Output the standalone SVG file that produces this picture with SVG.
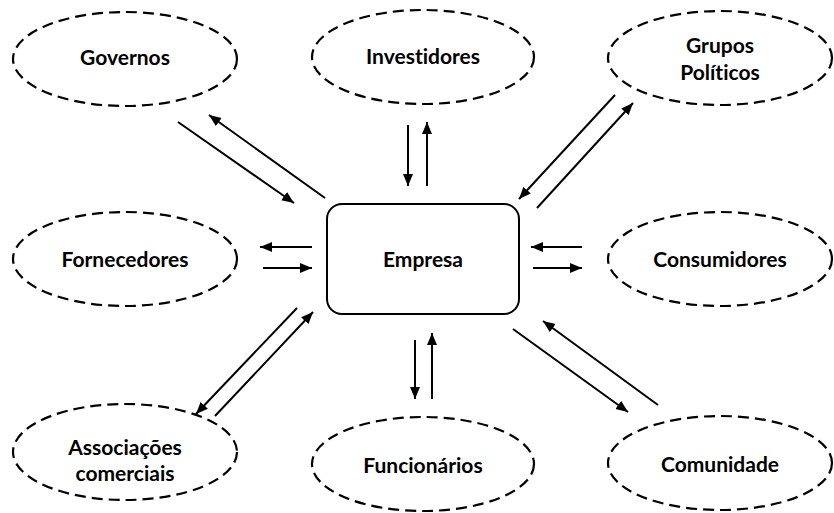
<svg xmlns="http://www.w3.org/2000/svg" width="834" height="513" viewBox="0 0 834 513">
<style>
.n ellipse{fill:#fff;stroke:#000;stroke-width:2.2;stroke-dasharray:11 6}
text{font-family:Lato,"Open Sans","Liberation Sans",sans-serif;font-weight:bold;font-size:21px;fill:#000;text-anchor:middle;dominant-baseline:central;font-variant-ligatures:none}
.c line{stroke:#000;stroke-width:2;marker-end:url(#ah)}
</style>
<defs>
<marker id="ah" markerUnits="userSpaceOnUse" markerWidth="14" markerHeight="12" refX="12" refY="5" orient="auto">
<path d="M0,0 L12,5 L0,10 Z" fill="#000"/>
</marker>
</defs>
<rect width="834" height="513" fill="#fff"/>
<g id="governos" class="n"><ellipse cx="125" cy="59" rx="112" ry="47"/><text x="125" y="56">Governos</text></g>
<g id="investidores" class="n"><ellipse cx="423" cy="57" rx="111" ry="47"/><text x="423" y="55">Investidores</text></g>
<g id="grupos" class="n"><ellipse cx="720" cy="58" rx="112" ry="47"/><text x="720" y="44">Grupos</text><text x="720" y="71">Políticos</text></g>
<g id="fornecedores" class="n"><ellipse cx="125" cy="259" rx="112" ry="47"/><text x="125" y="258">Fornecedores</text></g>
<g id="empresa"><rect x="327" y="204" width="192" height="110" rx="15" fill="#fff" stroke="#000" stroke-width="2"/><text x="423" y="258">Empresa</text></g>
<g id="consumidores" class="n"><ellipse cx="720" cy="259" rx="112" ry="47"/><text x="720" y="258">Consumidores</text></g>
<g id="associacoes" class="n"><ellipse cx="125" cy="452" rx="112" ry="48"/><text x="125" y="446">Associações</text><text x="125" y="472">comerciais</text></g>
<g id="funcionarios" class="n"><ellipse cx="423" cy="464" rx="111" ry="47"/><text x="423" y="464">Funcionários</text></g>
<g id="comunidade" class="n"><ellipse cx="720" cy="463" rx="112" ry="47"/><text x="720" y="463">Comunidade</text></g>
<g id="connectors" class="c">
<line x1="178" y1="122" x2="294" y2="203"/>
<line x1="325" y1="198" x2="209" y2="115"/>
<line x1="408" y1="125" x2="408" y2="186"/>
<line x1="427" y1="186" x2="427" y2="122"/>
<line x1="615" y1="95" x2="519" y2="199"/>
<line x1="537" y1="208" x2="633" y2="103"/>
<line x1="312" y1="247" x2="260" y2="247"/>
<line x1="263" y1="268" x2="312" y2="268"/>
<line x1="582" y1="247" x2="531" y2="247"/>
<line x1="533" y1="268" x2="582" y2="268"/>
<line x1="297" y1="308" x2="196" y2="414"/>
<line x1="215" y1="416" x2="313" y2="312"/>
<line x1="415" y1="340" x2="415" y2="399"/>
<line x1="432" y1="399" x2="432" y2="333"/>
<line x1="513" y1="329" x2="628" y2="412"/>
<line x1="658" y1="405" x2="543" y2="321"/>
</g>
</svg>
